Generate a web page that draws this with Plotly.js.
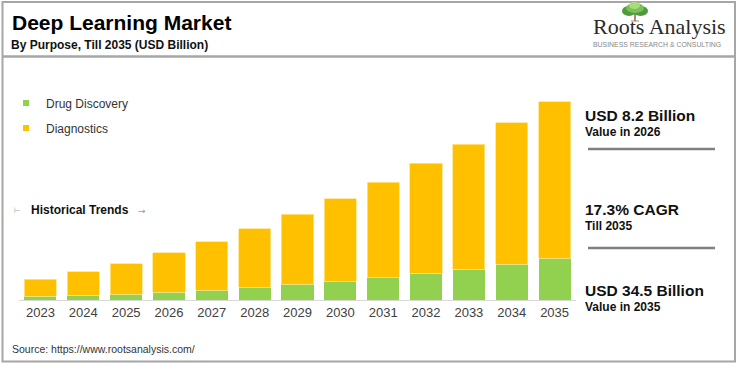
<!DOCTYPE html>
<html>
<head>
<meta charset="utf-8">
<script src="https://cdn.plot.ly/plotly-3.0.1.min.js"></script>
<style>html,body{margin:0;padding:0;background:#fff;}#chart{width:737px;height:366px;}</style>
</head>
<body>
<div id="chart"></div>
<script>
const years = ['2023','2024','2025','2026','2027','2028','2029','2030','2031','2032','2033','2034','2035'];
const drugDiscovery = [0.64,0.82,0.99,1.34,1.68,2.20,2.73,3.25,3.94,4.57,5.33,6.20,7.24];
const diagnostics = [2.96,4.08,5.31,6.86,8.42,10.20,12.17,14.35,16.56,19.23,21.77,24.60,27.26];
const seriesNames = ['Drug Discovery','Diagnostics'];
const seriesColors = ['#92D050','#FFC000'];

const W=737,H=366,ML=19,MR=161,MT=70,MB=66;
const PW=W-ML-MR, PH=H-MT-MB;
function px(x){return (x-ML)/PW;}
function py(y){return (MT+PH-y)/PH;}

const FONT='"Liberation Sans", Arial, sans-serif';
const DX=-4;

const traces = [
  {type:'bar',x:years,y:drugDiscovery,name:seriesNames[0],marker:{color:seriesColors[0]},showlegend:false,legendgroup:'a'},
  {type:'bar',x:years,y:diagnostics,name:seriesNames[1],marker:{color:seriesColors[1],line:{color:'#ffe58a',width:0.8}},showlegend:false,legendgroup:'b'},
  {type:'scatter',mode:'markers',x:[null],y:[null],name:seriesNames[0],marker:{symbol:'square',size:6,color:seriesColors[0]},legendgroup:'a'},
  {type:'scatter',mode:'markers',x:[null],y:[null],name:seriesNames[1],marker:{symbol:'square',size:6,color:seriesColors[1]},legendgroup:'b'}
];

function ann(text,x,y,size,opts){
  return Object.assign({text:text,xref:'paper',yref:'paper',x:px(x+DX),y:py(y),xanchor:'left',yanchor:'middle',showarrow:false,
    font:{family:FONT,size:size,color:'#111'}},opts||{});
}
const B=s=>'<b>'+s+'</b>';

const annotations = [
  ann(B('By Purpose, Till 2035 (USD Billion)'),13,45,12),
  ann('Roots Analysis',595,26,22,{font:{family:'"Liberation Serif", "Times New Roman", serif',size:22,color:'#2b2b2b'}}),
  ann('BUSINESS RESEARCH &amp; CONSULTING',595,44,6.9,{font:{family:FONT,size:6.9,color:'#888'}}),
  ann(B('Historical Trends'),33,210,12),
  ann('⊢',16,210,8,{font:{family:'"DejaVu Sans", sans-serif',size:8,color:'#aaa'}}),
  ann('→',140,211,9,{font:{family:'"DejaVu Sans", sans-serif',size:9,color:'#999'}}),
  ann(B('USD 8.2 Billion'),587,115,15.5),
  ann(B('Value in 2026'),587,132,12),
  ann(B('17.3% CAGR'),587,209,15.5),
  ann(B('Till 2035'),587,226,12),
  ann(B('USD 34.5 Billion'),587,290,15.5),
  ann(B('Value in 2035'),587,307,12),
  ann('Source: https://www.rootsanalysis.com/',14,349,10.5,{font:{family:FONT,size:10.5,color:'#333'}})
];

function rectPx(x0,y0,x1,y1,o){return Object.assign({type:'rect',xref:'paper',yref:'paper',x0:px(x0),x1:px(x1),y0:py(y0),y1:py(y1)},o);}
function linePx(x0,y0,x1,y1,color,w){return {type:'line',xref:'paper',yref:'paper',x0:px(x0),x1:px(x1),y0:py(y0),y1:py(y1),line:{color:color,width:w}};}
function circPx(x0,y0,x1,y1,color){return {type:'circle',xref:'paper',yref:'paper',x0:px(x0),x1:px(x1),y0:py(y0),y1:py(y1),fillcolor:color,line:{width:0}};}

const shapes = [
  rectPx(2.5,2,735,361.5,{line:{color:'#a6a6a6',width:2},fillcolor:'rgba(0,0,0,0)'}),
  linePx(3,56.5,735,56.5,'#a6a6a6',2.5),
  linePx(588,149,715,149,'#808080',2.5),
  linePx(588,248,715,248,'#808080',2.5),
  // tree logo
  linePx(635,13,635,21,'#7d6b4e',1.5),
  linePx(631,21,639,21,'#9a8a6e',1),
  circPx(622,6,636,16,'#4f9a3a'),
  circPx(633,6,648,16,'#4f9a3a'),
  circPx(626,3,644,13,'#7cc05a'),
  circPx(629,2,640,9,'#a8dc7a')
];

const layout = {
  width:W,height:H,
  margin:{l:ML,r:MR,t:MT,b:MB,pad:0,autoexpand:false},
  paper_bgcolor:'#fff',plot_bgcolor:'#fff',
  barmode:'stack',bargap:0.25,
  title:{text:'<b>Deep Learning Market</b>',x:12/W,xanchor:'left',xref:'container',y:1-23/H,yanchor:'middle',yref:'container',
    font:{family:FONT,size:21,color:'#000'}},
  xaxis:{type:'category',showgrid:false,showline:true,linecolor:'#d9d9d9',linewidth:1,ticks:'',zeroline:false,
    tickfont:{family:FONT,size:13,color:'#404040'},fixedrange:true},
  yaxis:{visible:false,range:[0,40],showgrid:false,zeroline:false,fixedrange:true},
  showlegend:true,
  legend:{x:px(6),y:py(88.5),xanchor:'left',yanchor:'top',bgcolor:'rgba(0,0,0,0)',borderwidth:0,
    font:{family:FONT,size:12,color:'#333'},traceorder:'grouped',tracegroupgap:6,itemsizing:'trace'},
  annotations:annotations,
  shapes:shapes
};

Plotly.newPlot('chart',traces,layout,{staticPlot:true,displayModeBar:false});
</script>
</body>
</html>
